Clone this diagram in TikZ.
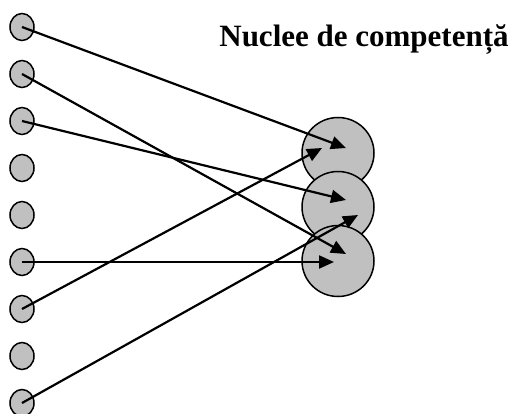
\documentclass[tikz,border=0pt]{standalone}
\usepackage{fontspec}
\setmainfont{Liberation Serif}
\usetikzlibrary{arrows.meta, shapes.geometric}
\definecolor{nodegray}{RGB}{192, 192, 192}

\begin{document}
\begin{tikzpicture}[
  x=1pt, y=-1pt,
  item/.style={ellipse, draw=black, fill=nodegray, line width=1.5pt,
               minimum width=24pt, minimum height=27pt, inner sep=0pt},
  nucleu/.style={ellipse, draw=black, fill=nodegray, line width=1.5pt,
                 minimum width=72pt, minimum height=71pt, inner sep=0pt},
  link/.style={line width=2.2pt, -{Triangle[length=15pt, width=13pt]}},
  titlu/.style={font=\fontsize{31}{36}\selectfont\bfseries}
]
\useasboundingbox (0,0) rectangle (521,414);

% small items on the left
\foreach \i in {1,...,9}{
  \node[item] (s\i) at (22, {27+(\i-1)*47}) {};
}

% competence nuclei
\node[nucleu] (n1) at (338, 153) {};
\node[nucleu] (n2) at (338, 207) {};
\node[nucleu] (n3) at (338, 261) {};

% title
\node[titlu] (title) at (364, 40) {Nuclee de competență};

% arrow tips inside the nuclei
\coordinate (t1) at (346, 148);
\coordinate (t2) at (346, 254);
\coordinate (t3) at (346, 200);
\coordinate (t6) at (334, 262);
\coordinate (t7) at (322, 148);
\coordinate (t9) at (358, 215);

% links
\draw[link] (s1.center) -- (t1);
\draw[link] (s2.center) -- (t2);
\draw[link] (s3.center) -- (t3);
\draw[link] (s6.center) -- (t6);
\draw[link] (s7.center) -- (t7);
\draw[link] (s9.center) -- (t9);

\end{tikzpicture}
\end{document}
